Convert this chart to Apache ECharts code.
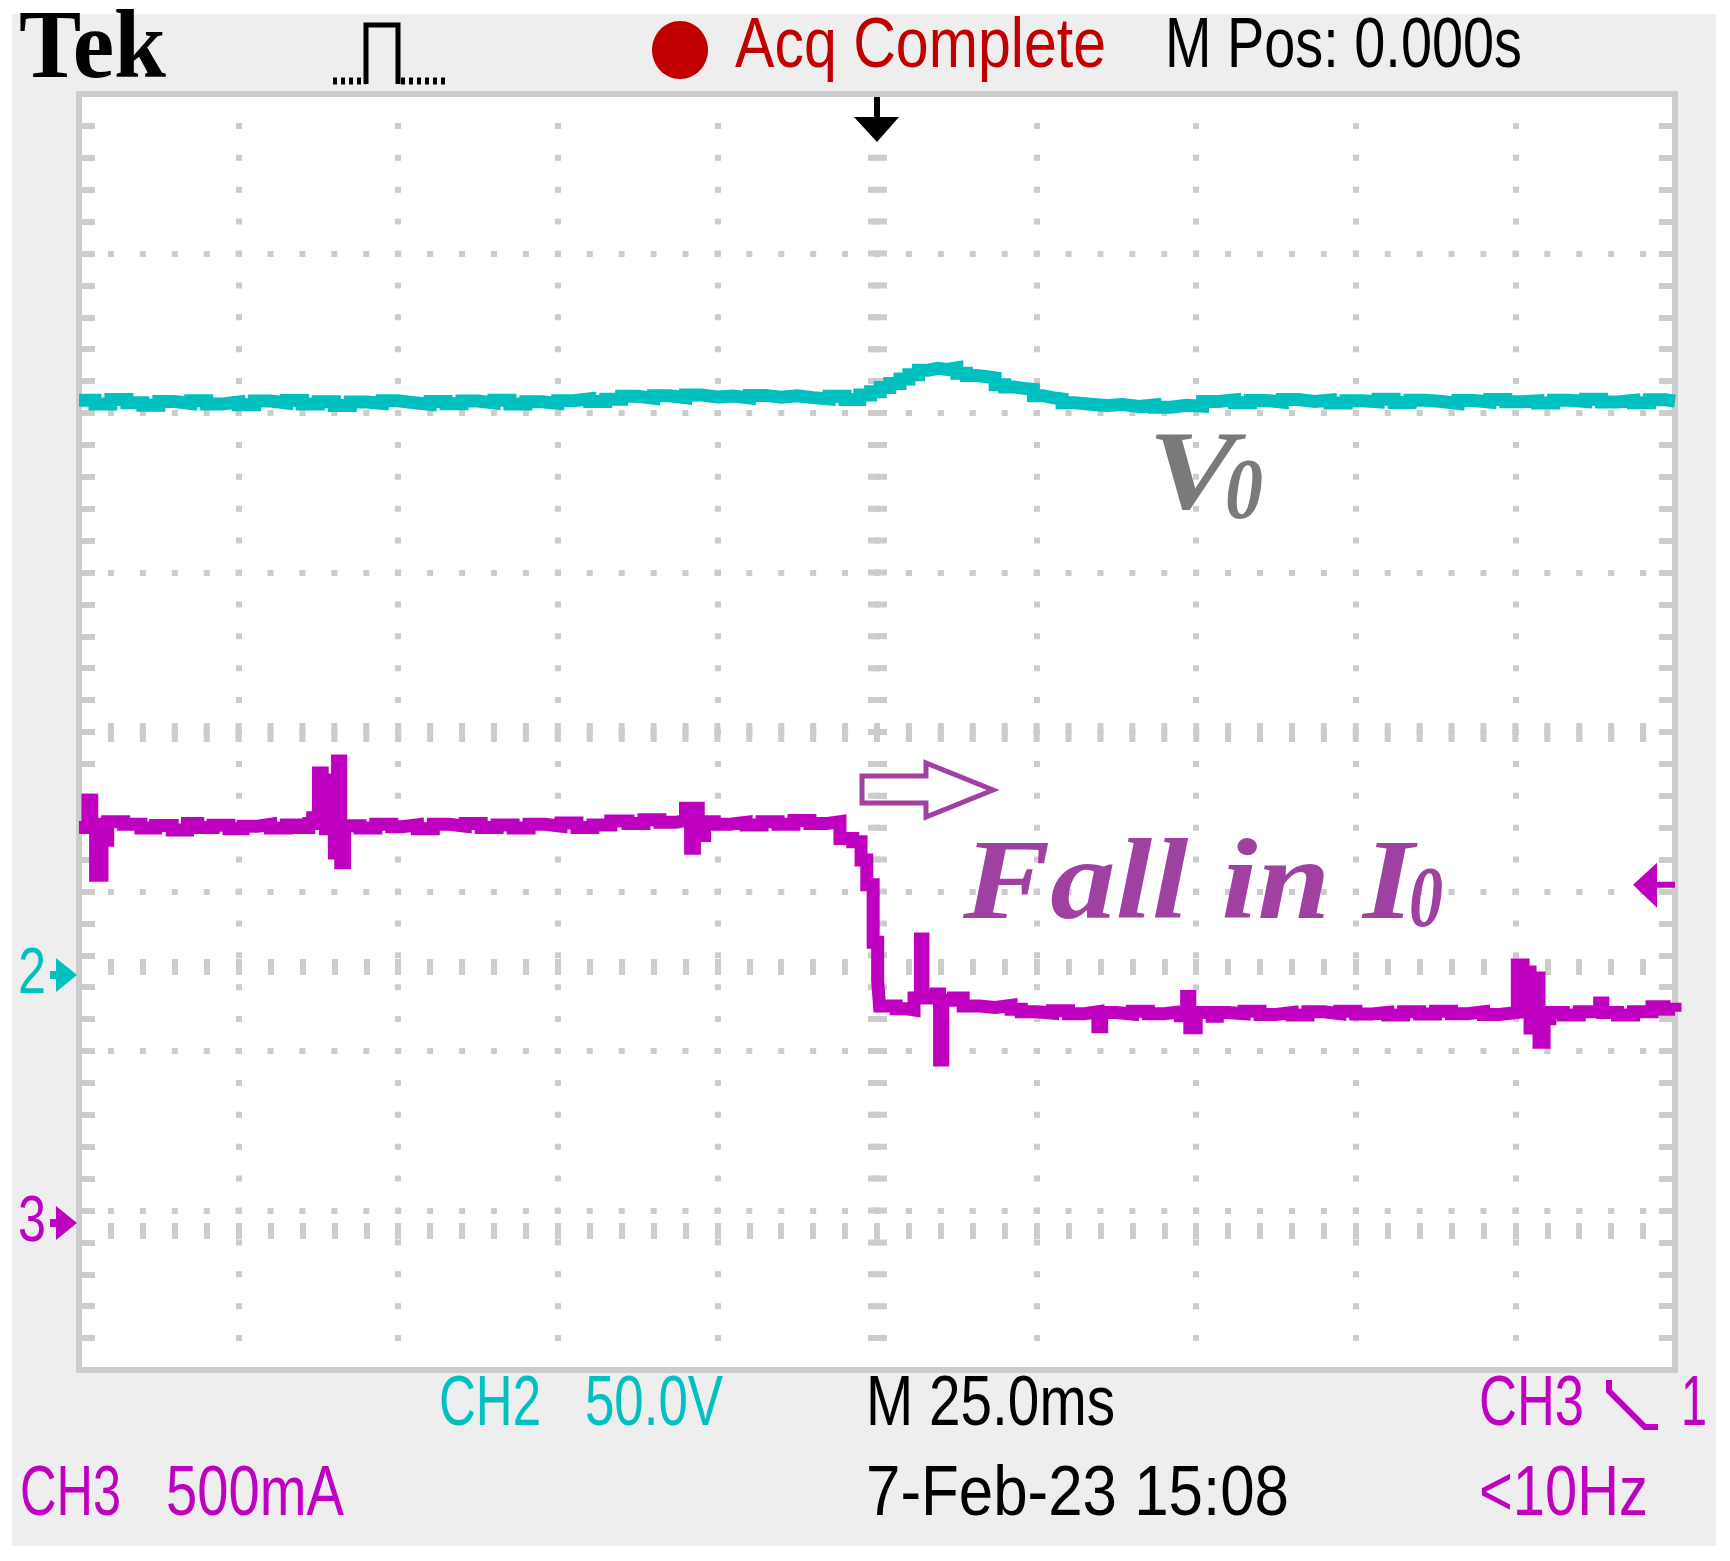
<!DOCTYPE html>
<html>
<head>
<meta charset="utf-8">
<title>Tek - CH2 / CH3 load step</title>
<script src="https://cdn.jsdelivr.net/npm/echarts@6/dist/echarts.min.js"></script>
<style>
  html, body { margin: 0; background: #fff; }
  #panel { position: absolute; left: 12px; top: 14px; width: 1704px; height: 1532px; background: #eeeeee; }
  #chart { position: absolute; left: 0; top: 0; width: 1730px; height: 1561px; }
</style>
</head>
<body>
<div id="panel"></div>
<div id="chart"></div>
<script>
// scope settings
const timeMin = -125, timeMax = 125, timePerDiv = 25;   // M 25.0ms, M Pos 0.000s
const ch2VoltsPerDiv = 50;       // CH2 50.0V
const ch3MilliampPerDiv = 500;   // CH3 500mA
const ch2GroundDiv = 2.4765;     // marker "2", divisions above the bottom edge
const ch3GroundDiv = 0.9216;     // marker "3"
const ch3TriggerLevel = 1060;    // mA, right-hand marker
const triggerTime = 0;           // ms, top marker

// CH2 - output voltage V0 (V)
const ch2Time = [
  -125, -122.5, -120, -117.5, -115, -112.5, -110, -107.5, -105, -102.5,
  -100, -97.5, -95, -92.5, -90, -87.5, -85, -82.5, -80, -77.5,
  -75, -72.5, -70, -67.5, -65, -62.5, -60, -57.5, -55, -52.5,
  -50, -47.5, -45, -42.5,
  -40, -37.5, -35, -32.5, -30, -27.5, -25, -22.5, -20, -17.5, -15, -12.5,
  -10, -7.5, -5,
  -2.7, -1.0, 0.5, 2.0, 3.6, 5.0, 6.5, 8.0, 9.5, 11.0, 12.5, 14.0,
  15.5, 17.0, 18.5, 20.0, 21.5, 23.0, 24.5, 26.0, 27.5, 29.0, 31.0, 33.5,
  36, 38.5, 41, 43.5, 46, 48.5,
  51, 53.5, 56, 58.5, 61, 63.5, 66, 68.5, 71, 73.5,
  76, 78.5, 81, 83.5, 86, 88.5, 91, 93.5, 96, 98.5,
  101, 103.5, 106, 108.5, 111, 113.5, 116, 118.5, 121, 123.5,
  125
];
const ch2Volts = [
  180.2, 179.0, 180.4, 179.4, 178.6, 179.8, 179.2, 180.0, 179.0, 179.6,
  178.8, 179.9, 179.3, 180.1, 179.0, 179.7, 178.5, 179.6, 179.2, 180.0,
  179.4, 178.9, 179.8, 179.1, 179.9, 179.3, 180.2, 179.0, 179.7, 179.2,
  180.0, 180.6, 179.8, 180.5,
  181.4, 180.8, 181.6, 181.0, 181.8, 181.2, 181.5, 180.9, 181.7, 181.1, 181.6, 181.0,
  180.6, 181.4, 180.4,
  181.8, 182.8, 184.2, 185.4, 186.8, 188.2, 189.6, 190.2, 189.8, 190.3, 188.6, 187.9,
  187.6, 187.2, 185.0, 184.3, 183.9, 183.6, 181.6, 181.0, 180.6, 179.4, 178.9, 178.5,
  178.8, 178.2, 178.7, 178.0, 178.6, 178.3,
  179.8, 180.3, 179.4, 180.1, 179.6, 180.4, 179.8, 180.2, 179.3, 180.0,
  179.7, 180.5, 179.5, 180.2, 179.8, 179.2, 180.1, 179.6, 180.4, 179.7,
  180.0, 179.3, 180.2, 179.8, 180.5, 179.6, 180.1, 179.4, 180.3, 179.9,
  180.0
];

// CH3 - load current I0 (mA)
const ch3Time = [
  -125.0, -123.6, -123.0, -122.4, -121.4, -120.5, -118.0, -115.3, -113.0, -110.4,
  -108.0, -106.4, -104.0, -101.5, -99.3, -97.0, -95.0, -92.5, -90.5, -89.0,
  -88.4, -87.5, -86.9, -86.4, -85.5, -85.0, -84.5, -84.0, -83.4, -81.0,
  -78.5, -76.0, -74.4, -72.0, -69.5, -67.0, -64.5, -62.0, -59.5, -57.0,
  -54.5, -52.0, -49.5, -47.0, -44.5, -41.7, -39.0, -36.5, -34.0, -31.5,
  -30.0, -29.2, -28.6, -28.0, -27.0, -25.5, -23.0, -20.5, -18.0, -15.5,
  -13.0, -10.5, -8.0, -5.8, -3.8, -2.5, -1.6, -0.6, 0.1, 0.4,
  3.0, 4.4, 5.8, 6.8, 7.2, 8.0, 9.3, 9.8, 10.3, 12.0,
  13.5, 16.0, 18.5, 21.0, 22.6, 25.0, 27.5, 30.0, 32.5, 34.6,
  35.2, 37.5, 40.0, 42.5, 45.0, 47.5, 48.5, 49.0, 50.0, 52.5,
  53.3, 55.0, 57.5, 60.0, 62.5, 65.0, 67.5, 70.0, 72.5, 75.0,
  77.5, 80.0, 82.5, 85.0, 87.5, 90.0, 92.5, 95.0, 97.5, 100.3,
  101.2, 102.3, 103.3, 103.7, 104.5, 105.4, 107.5, 110.0, 113.2, 113.7,
  116.0, 118.5, 121.4, 123.3, 125.0
];
const ch3Current = [
  1240, 1325, 1250, 1090, 1200, 1258, 1250, 1238, 1246, 1232,
  1252, 1240, 1247, 1236, 1244, 1250, 1238, 1248, 1240, 1252,
  1270, 1411, 1255, 1236, 1389, 1160, 1448, 1129, 1245, 1238,
  1250, 1242, 1248, 1236, 1250, 1244, 1252, 1240, 1248, 1238,
  1250, 1244, 1254, 1240, 1248, 1260, 1252, 1264, 1256, 1262,
  1300, 1175, 1300, 1215, 1258, 1250, 1256, 1248, 1258, 1250,
  1262, 1252, 1258, 1205, 1195, 1138, 1060, 880, 760, 680,
  672, 668, 705, 890, 715, 705, 718, 511, 698, 705,
  680, 676, 682, 670, 662, 658, 665, 656, 662, 615,
  660, 655, 664, 656, 662, 650, 710, 612, 660, 648,
  660, 656, 664, 654, 660, 652, 662, 656, 664, 655,
  660, 652, 662, 655, 664, 656, 662, 654, 660, 809,
  787, 611, 768, 567, 640, 660, 652, 662, 690, 660,
  652, 662, 678, 670, 662
];

const CYAN = '#00c0c0', MAGENTA = '#c000c0', RED = '#c00000', NOTE = '#a040a0', GRAT = '#cccccc';

const grid = { left: 79, top: 94, width: 1596, height: 1276 };
const divs = 8;
const ch2Min = -ch2GroundDiv * ch2VoltsPerDiv, ch2Max = ch2Min + divs * ch2VoltsPerDiv;
const ch3Min = -ch3GroundDiv * ch3MilliampPerDiv, ch3Max = ch3Min + divs * ch3MilliampPerDiv;

const stepY = grid.height / 40;  // dot pitch along vertical lines
const stepX = grid.width / 50;   // dot pitch along horizontal lines

const tick = { show: true, inside: true, length: 16, lineStyle: { color: GRAT, width: 6 } };
const minor = { show: true, splitNumber: 5, length: 16, lineStyle: { color: GRAT, width: 6 } };

const chart = echarts.init(document.getElementById('chart'));

const option = {
  animation: false,
  grid: Object.assign({ show: true, backgroundColor: '#ffffff', borderColor: GRAT, borderWidth: 6,
    containLabel: false, outerBoundsMode: 'none' }, grid),
  xAxis: [
    { type: 'value', min: timeMin, max: timeMax, interval: timePerDiv, position: 'bottom',
      axisLine: { show: false }, axisLabel: { show: false }, axisTick: tick, minorTick: minor,
      splitLine: { show: true, lineStyle: { color: GRAT, width: 6, type: [6, stepY - 6], dashOffset: 3 } } },
    { type: 'value', min: timeMin, max: timeMax, interval: timePerDiv, position: 'top',
      axisLine: { show: false }, axisLabel: { show: false }, axisTick: tick, minorTick: minor,
      splitLine: { show: false } }
  ],
  yAxis: [
    { type: 'value', min: ch2Min, max: ch2Max, show: false },
    { type: 'value', min: ch3Min, max: ch3Max, show: false },
    { type: 'value', min: 0, max: divs, interval: 1, position: 'left',
      axisLine: { show: false }, axisLabel: { show: false }, axisTick: tick, minorTick: minor,
      splitLine: { show: true, lineStyle: { color: GRAT, width: 6, type: [6, stepX - 6], dashOffset: 3 } } },
    { type: 'value', min: 0, max: divs, interval: 1, position: 'right',
      axisLine: { show: false }, axisLabel: { show: false }, axisTick: tick, minorTick: minor,
      splitLine: { show: false } }
  ],
  series: [
    {
      // centre cross of the graticule
      type: 'line', xAxisIndex: 0, yAxisIndex: 2, data: [], silent: true, z: 1,
      markLine: {
        silent: true, symbol: ['none', 'none'], label: { show: false }, animation: false,
        data: [
          { xAxis: 0, lineStyle: { color: GRAT, width: 19, type: [6, stepY - 6], dashOffset: 3 } },
          { yAxis: divs / 2, lineStyle: { color: GRAT, width: 19, type: [6, stepX - 6], dashOffset: 3 } }
        ]
      }
    },
    {
      name: 'CH2', type: 'line', xAxisIndex: 0, yAxisIndex: 0, step: 'end', showSymbol: false,
      silent: true, z: 10,
      data: ch2Time.map((t, i) => [t, ch2Volts[i]]),
      lineStyle: { color: CYAN, width: 13, join: 'miter' }
    },
    {
      name: 'CH3', type: 'line', xAxisIndex: 0, yAxisIndex: 1, step: 'end', showSymbol: false,
      silent: true, z: 10,
      data: ch3Time.map((t, i) => [t, ch3Current[i]]),
      lineStyle: { color: MAGENTA, width: 13, join: 'miter' }
    }
  ]
};
chart.setOption(option);

// text helpers, squeezed to the width they take on the screen
const measure = document.createElement('canvas').getContext('2d');
const SANS = { family: '"Liberation Sans"', weight: 'normal', style: 'normal', cap: 0.716, mid: 0.3465 };
const TEK = { family: '"Liberation Serif"', weight: 'bold', style: 'normal', cap: 0.662, mid: 0.3375 };
const NOTEFACE = { family: '"Liberation Serif"', weight: 'bold', style: 'italic', cap: 0.662, mid: 0.3375 };

function label(text, left, width, baseline, capHeight, fill, face) {
  const size = capHeight / face.cap;
  const font = face.style + ' ' + face.weight + ' ' + size.toFixed(1) + 'px ' + face.family;
  measure.font = font;
  const w = measure.measureText(text).width;
  return {
    type: 'text', x: left, y: baseline - face.mid * size, scaleX: width / w,
    style: { text: text, font: font, fill: fill, align: 'left', verticalAlign: 'middle',
      textAlign: 'left', textVerticalAlign: 'middle' }
  };
}

const trigX = chart.convertToPixel({ xAxisIndex: 0 }, triggerTime);
const g2 = chart.convertToPixel({ yAxisIndex: 0 }, 0);
const g3 = chart.convertToPixel({ yAxisIndex: 1 }, 0);
const trigY = chart.convertToPixel({ yAxisIndex: 1 }, ch3TriggerLevel);
const gridRight = grid.left + grid.width;

function groundArrow(y, fill) {
  return { type: 'polygon', shape: { points: [[50, y - 4], [56, y - 4], [56, y - 17], [77, y], [56, y + 17], [56, y + 4], [50, y + 4]] },
    style: { fill: fill } };
}

const graphics = [
  // header
  label('Tek', 19, 147, 85, 64, '#000', TEK),
  { type: 'polyline', shape: { points: [[333, 81], [366, 81]] }, style: { stroke: '#000', lineWidth: 7, lineDash: [4, 4], fill: null } },
  { type: 'polyline', shape: { points: [[366, 84], [366, 25], [398, 25], [398, 84]] }, style: { stroke: '#000', lineWidth: 5, fill: null } },
  { type: 'polyline', shape: { points: [[401, 81], [447, 81]] }, style: { stroke: '#000', lineWidth: 7, lineDash: [4, 4], fill: null } },
  { type: 'ellipse', shape: { cx: 680, cy: 50, rx: 28, ry: 29 }, style: { fill: RED } },
  label('Acq Complete', 735, 371, 72, 51, RED, SANS),
  label('M Pos: 0.000s', 1165, 357, 72, 51, '#000', SANS),

  // footer
  label('CH2', 439, 102, 1430, 50, CYAN, SANS),
  label('50.0V', 585, 138, 1430, 50, CYAN, SANS),
  label('M 25.0ms', 866, 249, 1430, 50, '#000', SANS),
  label('CH3', 1479, 105, 1430, 50, MAGENTA, SANS),
  { type: 'polyline', shape: { points: [[1609, 1380], [1609, 1391], [1645, 1427], [1658, 1427]] }, style: { stroke: MAGENTA, lineWidth: 6, fill: null } },
  label('1', 1681, 26, 1430, 50, MAGENTA, SANS),
  label('CH3', 20, 101, 1520, 51, MAGENTA, SANS),
  label('500mA', 166, 178, 1520, 51, MAGENTA, SANS),
  label('7-Feb-23 15:08', 866, 423, 1520, 51, '#000', SANS),
  label('<10Hz', 1479, 169, 1520, 51, MAGENTA, SANS),

  // ground markers
  label('2', 18, 28, g2 + 23, 46, CYAN, SANS),
  groundArrow(g2, CYAN),
  label('3', 18, 28, g3 + 23, 46, MAGENTA, SANS),
  groundArrow(g3, MAGENTA),

  // trigger position and level
  { type: 'rect', shape: { x: trigX - 3, y: 97, width: 6, height: 22 }, style: { fill: '#000' } },
  { type: 'polygon', shape: { points: [[trigX - 23, 117], [trigX + 22, 117], [trigX, 142]] }, style: { fill: '#000' } },
  { type: 'polygon', shape: { points: [[gridRight - 42, trigY], [gridRight - 18, trigY - 22], [gridRight - 18, trigY - 3], [gridRight, trigY - 3], [gridRight, trigY + 3], [gridRight - 18, trigY + 3], [gridRight - 18, trigY + 23]] }, style: { fill: MAGENTA } },

  // annotations
  label('V', 1148, 89, 517, 74, '#7a7a7a', NOTEFACE),
  label('0', 1225, 38, 525, 58, '#7a7a7a', NOTEFACE),
  { type: 'polygon', shape: { points: [[862, 776], [926, 776], [926, 763], [993, 790], [926, 817], [926, 803], [862, 803]] },
    style: { fill: null, stroke: NOTE, lineWidth: 5 } },
  label('Fall in I', 963, 451, 927, 76, NOTE, NOTEFACE),
  label('0', 1409, 34, 933, 57, NOTE, NOTEFACE)
].map(el => Object.assign({ silent: true, z: 100 }, el));

chart.setOption({ graphic: { elements: graphics } });
</script>
</body>
</html>
